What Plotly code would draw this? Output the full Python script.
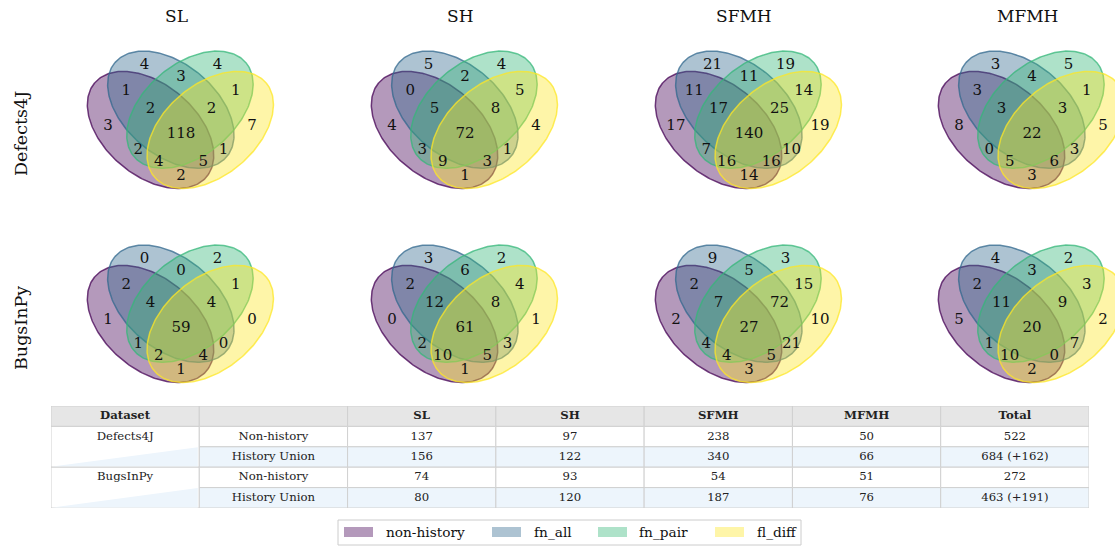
import numpy as np
import plotly.graph_objects as go

W, H = 1115, 546
FONT = "DejaVu Serif"

# ---------------- data ----------------
datasets = ["Defects4J", "BugsInPy"]
techniques = ["SL", "SH", "SFMH", "MFMH"]
set_names = ["non-history", "fn_all", "fn_pair", "fl_diff"]
set_colors = ["#440154", "#31688e", "#35b779", "#fde725"]

# region membership keys (non-history, fn_all, fn_pair, fl_diff)
region_keys = ["1000", "0100", "0010", "0001", "1100", "0110", "0011", "1110",
               "0111", "1111", "1010", "0101", "1011", "1101", "1001"]

d4j_sl = [3, 4, 4, 7, 1, 3, 1, 2, 2, 118, 2, 1, 4, 5, 2]
d4j_sh = [4, 5, 4, 4, 0, 2, 5, 5, 8, 72, 3, 1, 9, 3, 1]
d4j_sfmh = [17, 21, 19, 19, 11, 11, 14, 17, 25, 140, 7, 10, 16, 16, 14]
d4j_mfmh = [8, 3, 5, 5, 3, 4, 1, 3, 3, 22, 0, 3, 5, 6, 3]
bip_sl = [1, 0, 2, 0, 2, 0, 1, 4, 4, 59, 1, 0, 2, 4, 1]
bip_sh = [0, 3, 2, 1, 2, 6, 4, 12, 8, 61, 2, 3, 10, 5, 1]
bip_sfmh = [2, 9, 3, 10, 2, 5, 15, 7, 72, 27, 4, 21, 4, 5, 3]
bip_mfmh = [5, 4, 2, 2, 2, 3, 3, 11, 9, 20, 1, 7, 10, 0, 2]

venn_counts = [[d4j_sl, d4j_sh, d4j_sfmh, d4j_mfmh],
               [bip_sl, bip_sh, bip_sfmh, bip_mfmh]]

table_header = ["Dataset", "", "SL", "SH", "SFMH", "MFMH", "Total"]
row_kinds = ["Non-history", "History Union"]
d4j_nonhist = ["137", "97", "238", "50", "522"]
d4j_union = ["156", "122", "340", "66", "684 (+162)"]
bip_nonhist = ["74", "93", "54", "51", "272"]
bip_union = ["80", "120", "187", "76", "463 (+191)"]
table_rows = [d4j_nonhist, d4j_union, bip_nonhist, bip_union]

# ---------------- layout constants ----------------
# 4-set ellipse Venn geometry (unit square)
ellipses = [(0.350, 0.400, 0.72, 0.45, 140.0),
            (0.450, 0.500, 0.72, 0.45, 140.0),
            (0.544, 0.500, 0.72, 0.45, 40.0),
            (0.644, 0.400, 0.72, 0.45, 40.0)]
label_pos = {"0001": (0.85, 0.42), "0010": (0.68, 0.72), "0011": (0.77, 0.59),
             "0100": (0.32, 0.72), "0101": (0.71, 0.30), "0110": (0.50, 0.66),
             "0111": (0.65, 0.50), "1000": (0.14, 0.42), "1001": (0.50, 0.17),
             "1010": (0.29, 0.30), "1011": (0.39, 0.24), "1100": (0.23, 0.59),
             "1101": (0.61, 0.24), "1110": (0.35, 0.50), "1111": (0.50, 0.38)}

U = 203.0                      # pixels per venn unit
panel_cx = [181, 465, 749, 1032]
panel_cy = [134, 328]          # pixel y of venn y=0.38


def rgba(hexc, a):
    h = hexc.lstrip("#")
    r, g, b = int(h[0:2], 16), int(h[2:4], 16), int(h[4:6], 16)
    return f"rgba({r},{g},{b},{a})"


fig = go.Figure()
layout_axes = {}
shapes = []
annotations = []

t = np.linspace(0, 2 * np.pi, 240)
idx = 0
for r, ds in enumerate(datasets):
    for c, tech in enumerate(techniques):
        idx += 1
        sfx = "" if idx == 1 else str(idx)
        cx, cy = panel_cx[c], panel_cy[r]
        x0p, x1p = cx - 0.5 * U, cx + 0.5 * U
        xr0, xr1 = 0.0, 1.0
        if x0p < 0:
            xr0 = -x0p / U
            x0p = 0
        if x1p > W:
            xr1 = 1 - (x1p - W) / U
            x1p = W
        ytop = cy - 0.62 * U
        ybot = cy + 0.38 * U
        layout_axes["xaxis" + sfx] = dict(domain=[x0p / W, x1p / W], range=[xr0, xr1],
                                          visible=False, fixedrange=True, anchor="y" + sfx)
        layout_axes["yaxis" + sfx] = dict(domain=[1 - ybot / H, 1 - ytop / H], range=[0, 1],
                                          visible=False, fixedrange=True, anchor="x" + sfx)
        for k, (ex, ey, ew, eh, ang) in enumerate(ellipses):
            th = np.deg2rad(ang)
            a, b = ew / 2, eh / 2
            xs = ex + a * np.cos(t) * np.cos(th) - b * np.sin(t) * np.sin(th)
            ys = ey + a * np.cos(t) * np.sin(th) + b * np.sin(t) * np.cos(th)
            fig.add_trace(go.Scatter(x=xs, y=ys, mode="lines", fill="toself",
                                     fillcolor=rgba(set_colors[k], 0.4),
                                     line=dict(color=rgba(set_colors[k], 0.75), width=1.5),
                                     hoverinfo="skip", showlegend=False,
                                     xaxis="x" + sfx, yaxis="y" + sfx))
        counts = venn_counts[r][c]
        fig.add_trace(go.Scatter(x=[label_pos[k][0] for k in region_keys],
                                 y=[label_pos[k][1] for k in region_keys],
                                 text=[str(v) for v in counts], mode="text",
                                 textposition="middle center",
                                 textfont=dict(family=FONT, size=15, color="#111111"),
                                 hoverinfo="skip", showlegend=False,
                                 xaxis="x" + sfx, yaxis="y" + sfx))
        if r == 0:
            annotations.append(dict(x=(cx - 5) / W, y=1 - 16 / H, xref="paper", yref="paper",
                                    text=tech, showarrow=False,
                                    font=dict(family=FONT, size=17, color="#111111"),
                                    xanchor="center", yanchor="middle"))
    annotations.append(dict(x=21 / W, y=1 - panel_cy[r] / H, xref="paper", yref="paper",
                            text=ds, showarrow=False, textangle=-90,
                            font=dict(family=FONT, size=17.5, color="#111111"),
                            xanchor="center", yanchor="middle"))

# ---------------- table ----------------
tidx = idx + 1
ts = str(tidx)
tx0, tx1, ty0, ty1 = 51, 1089, 406, 508
ncols, nrows = 7, 5
layout_axes["xaxis" + ts] = dict(domain=[tx0 / W, tx1 / W], range=[0, ncols],
                                 visible=False, fixedrange=True, anchor="y" + ts)
layout_axes["yaxis" + ts] = dict(domain=[1 - ty1 / H, 1 - ty0 / H], range=[nrows, 0],
                                 visible=False, fixedrange=True, anchor="x" + ts)
border = "#d0d0d0"
head_fill = "#e6e6e6"
union_fill = "#edf5fc"


def cell(x0, y0, x1, y1, fill):
    shapes.append(dict(type="rect", xref="x" + ts, yref="y" + ts, x0=x0, x1=x1, y0=y0, y1=y1,
                       fillcolor=fill, line=dict(color=border, width=1), layer="below"))


for ci in range(ncols):
    cell(ci, 0, ci + 1, 1, head_fill)
for gi in range(2):
    top = 1 + 2 * gi
    cell(0, top, 1, top + 2, "white")
    shapes.append(dict(type="path", xref="x" + ts, yref="y" + ts,
                       path=f"M 0.01 {top + 1.97} L 0.99 {top + 1.02} L 0.99 {top + 1.97} Z",
                       fillcolor=union_fill, line=dict(width=0), layer="below"))
for ri in range(4):
    fill = union_fill if ri % 2 == 1 else "white"
    for ci in range(1, ncols):
        cell(ci, ri + 1, ci + 1, ri + 2, fill)

tx, ty, tt = [], [], []
for ci, h in enumerate(table_header):
    tx.append(ci + 0.5); ty.append(0.5); tt.append(f"<b>{h}</b>" if h else "")
for gi, ds in enumerate(datasets):
    tx.append(0.5); ty.append(1.5 + 2 * gi); tt.append(ds)
for ri, vals in enumerate(table_rows):
    tx.append(1.5); ty.append(ri + 1.5); tt.append(row_kinds[ri % 2])
    for j, v in enumerate(vals):
        tx.append(j + 2.5); ty.append(ri + 1.5); tt.append(v)
fig.add_trace(go.Scatter(x=tx, y=ty, text=tt, mode="text", textposition="middle center",
                         textfont=dict(family=FONT, size=11.7, color="#222222"),
                         hoverinfo="skip", showlegend=False, cliponaxis=False,
                         xaxis="x" + ts, yaxis="y" + ts))

# ---------------- legend ----------------
def px(x):
    return x / W


def py(y):
    return 1 - y / H


shapes.append(dict(type="rect", xref="paper", yref="paper", x0=px(338), x1=px(801),
                   y0=py(545), y1=py(520), fillcolor="white",
                   line=dict(color="#cccccc", width=1), layer="above"))
sw_x = [344, 492, 598, 715]
txt_x = [384, 532, 637, 755]
for k, name in enumerate(set_names):
    shapes.append(dict(type="rect", xref="paper", yref="paper", x0=px(sw_x[k]), x1=px(sw_x[k] + 29),
                       y0=py(537), y1=py(527), fillcolor=rgba(set_colors[k], 0.4),
                       line=dict(width=0), layer="above"))
    annotations.append(dict(x=px(txt_x[k]), y=py(532), xref="paper", yref="paper", text=name,
                            showarrow=False, xanchor="left", yanchor="middle",
                            font=dict(family=FONT, size=13.7, color="#111111")))

fig.update_layout(width=W, height=H, margin=dict(l=0, r=0, t=0, b=0),
                  paper_bgcolor="white", plot_bgcolor="rgba(0,0,0,0)",
                  showlegend=False, shapes=shapes, annotations=annotations, **layout_axes)
fig.write_html("out.html", config={"displayModeBar": False},
               post_script="document.body.style.margin='0px';document.body.style.overflow='hidden';")
